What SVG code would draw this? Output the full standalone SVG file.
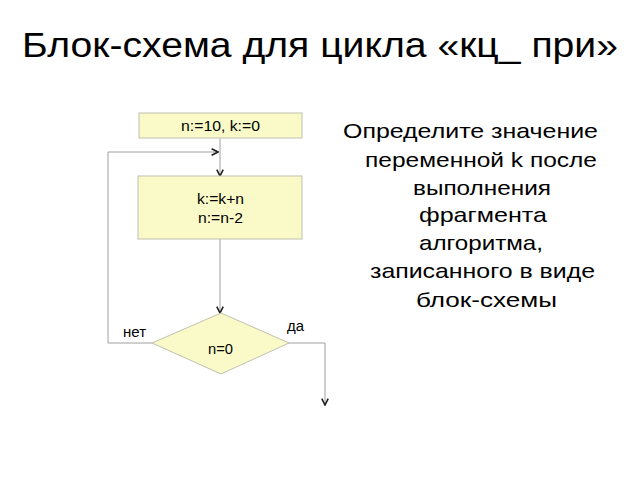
<svg xmlns="http://www.w3.org/2000/svg" width="640" height="480" viewBox="0 0 640 480">
<defs>
<style>
text{font-family:"Liberation Sans",Arial,sans-serif;fill:#000}
.node{fill:#fafac8;stroke:#c0c0b0;stroke-width:1}
.lbl{font-size:14px}
.con{fill:none;stroke:#a0a0a0;stroke-width:1}
.q{font-size:21px}
</style>
<marker id="ah" viewBox="0 0 10 10" refX="9" refY="5" markerWidth="8" markerHeight="8" markerUnits="userSpaceOnUse" orient="auto">
<path d="M1,1 L9,5 L1,9" fill="none" stroke="#202020" stroke-width="2"/>
</marker>
</defs>
<rect width="640" height="480" fill="#fff"/>
<text x="22" y="57" font-size="35" textLength="596" lengthAdjust="spacingAndGlyphs">Блок-схема для цикла «кц_ при»</text>
<g id="connectors">
<path class="con" d="M220,138 V176" marker-end="url(#ah)"/>
<path class="con" d="M152,343 H108 V152 H218" marker-end="url(#ah)"/>
<path class="con" d="M220,239 V313" marker-end="url(#ah)"/>
<path class="con" d="M288,343 H325 V405" marker-end="url(#ah)"/>
</g>
<g id="n1"><rect class="node" x="139" y="113" width="163" height="25"/><text class="lbl" x="181" y="131" textLength="79" lengthAdjust="spacingAndGlyphs">n:=10, k:=0</text></g>
<g id="n2"><rect class="node" x="138" y="176" width="164" height="63"/><text class="lbl" x="197" y="204" textLength="47" lengthAdjust="spacingAndGlyphs">k:=k+n</text><text class="lbl" x="198" y="223" textLength="45" lengthAdjust="spacingAndGlyphs">n:=n-2</text></g>
<g id="n3"><polygon class="node" points="221,313 289,343 221,374 152,343"/><text class="lbl" x="208" y="354" textLength="25" lengthAdjust="spacingAndGlyphs">n=0</text></g>
<text class="lbl" x="123" y="337" textLength="23" lengthAdjust="spacingAndGlyphs">нет</text>
<text class="lbl" x="287" y="331" textLength="17" lengthAdjust="spacingAndGlyphs">да</text>
<g id="question">
<text class="q" x="343" y="138" textLength="255" lengthAdjust="spacingAndGlyphs">Определите значение</text>
<text class="q" x="365" y="167" textLength="232" lengthAdjust="spacingAndGlyphs">переменной k после</text>
<text class="q" x="413" y="195" textLength="138" lengthAdjust="spacingAndGlyphs">выполнения</text>
<text class="q" x="419" y="222" textLength="128" lengthAdjust="spacingAndGlyphs">фрагмента</text>
<text class="q" x="419" y="250" textLength="124" lengthAdjust="spacingAndGlyphs">алгоритма,</text>
<text class="q" x="370" y="278" textLength="225" lengthAdjust="spacingAndGlyphs">записанного в виде</text>
<text class="q" x="416" y="307" textLength="141" lengthAdjust="spacingAndGlyphs">блок-схемы</text>
</g>
</svg>
